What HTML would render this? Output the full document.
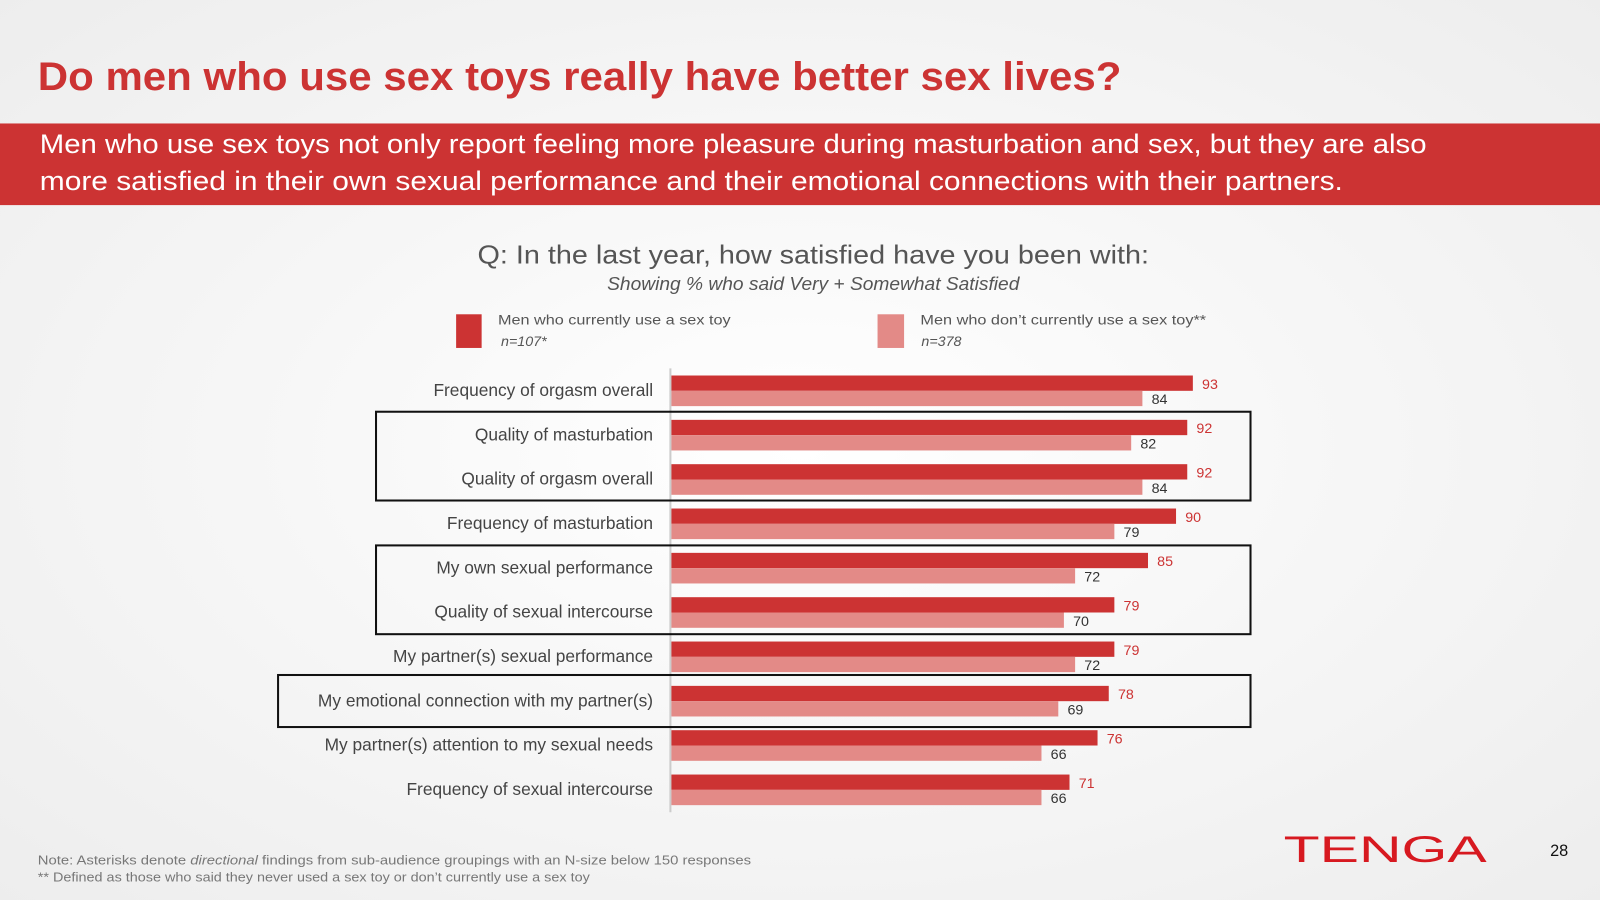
<!DOCTYPE html>
<html><head><meta charset="utf-8"><style>
html,body{margin:0;padding:0;width:1600px;height:900px;overflow:hidden;}
svg{display:block;font-family:"Liberation Sans",sans-serif;}
</style></head><body>
<svg id="chart" width="1600" height="900" viewBox="0 0 1568 882">
<defs>
<radialGradient id="bg" cx="50%" cy="50%" r="75%">
<stop offset="0" stop-color="#ffffff"/><stop offset="1" stop-color="#ececec"/>
</radialGradient>
</defs>
<rect width="1568" height="882" fill="url(#bg)"/>
<text x="37" y="88" font-size="39" font-weight="bold" fill="#cc3333" textLength="1062" lengthAdjust="spacingAndGlyphs">Do men who use sex toys really have better sex lives?</text>
<rect x="0" y="121" width="1568" height="80" fill="#cc3333"/>
<text x="39" y="150" font-size="26" fill="#fff" textLength="1359" lengthAdjust="spacingAndGlyphs">Men who use sex toys not only report feeling more pleasure during masturbation and sex, but they are also</text>
<text x="39" y="186" font-size="26" fill="#fff" textLength="1277" lengthAdjust="spacingAndGlyphs">more satisfied in their own sexual performance and their emotional connections with their partners.</text>
<text x="797" y="258" font-size="25" fill="#555" text-anchor="middle" textLength="658" lengthAdjust="spacingAndGlyphs">Q: In the last year, how satisfied have you been with:</text>
<text x="797" y="284" font-size="18" fill="#555" font-style="italic" text-anchor="middle" textLength="404" lengthAdjust="spacingAndGlyphs">Showing % who said Very + Somewhat Satisfied</text>
<rect x="447" y="308" width="25" height="33" fill="#cc3333"/>
<text x="488" y="318" font-size="14" fill="#555" textLength="228" lengthAdjust="spacingAndGlyphs">Men who currently use a sex toy</text>
<text x="491" y="339" font-size="14" fill="#555" font-style="italic">n=107*</text>
<rect x="860" y="308" width="26" height="33" fill="#e38a87"/>
<text x="902" y="318" font-size="14" fill="#555" textLength="280" lengthAdjust="spacingAndGlyphs">Men who don’t currently use a sex toy**</text>
<text x="903" y="339" font-size="14" fill="#555" font-style="italic">n=378</text>
<line x1="657" y1="361" x2="657" y2="796" stroke="#ccc" stroke-width="2"/>
<g id="bars"></g>
<rect x="368.5" y="403.5" width="857" height="87" fill="none" stroke="#111" stroke-width="2"/>
<rect x="368.5" y="534.5" width="857" height="87" fill="none" stroke="#111" stroke-width="2"/>
<rect x="272.5" y="661.5" width="953" height="51" fill="none" stroke="#111" stroke-width="2"/>
<text x="37" y="847" font-size="13" fill="#777" textLength="699" lengthAdjust="spacingAndGlyphs">Note: Asterisks denote <tspan font-style="italic">directional</tspan> findings from sub-audience groupings with an N-size below 150 responses</text>
<text x="37" y="864" font-size="13" fill="#777" textLength="541" lengthAdjust="spacingAndGlyphs">** Defined as those who said they never used a sex toy or don’t currently use a sex toy</text>
<text x="1258" y="845" font-size="36" fill="#d71920" textLength="199" lengthAdjust="spacingAndGlyphs">TENGA</text>
<text x="1528" y="839" font-size="16" fill="#111" text-anchor="middle">28</text>
</svg>
<script>
const categories = ["Frequency of orgasm overall","Quality of masturbation","Quality of orgasm overall","Frequency of masturbation","My own sexual performance","Quality of sexual intercourse","My partner(s) sexual performance","My emotional connection with my partner(s)","My partner(s) attention to my sexual needs","Frequency of sexual intercourse"];
const usersValues = [93,92,92,90,85,79,79,78,76,71];
const nonUsersValues = [84,82,84,79,72,70,72,69,66,66];
const NS="http://www.w3.org/2000/svg";
const g=document.getElementById('bars');
const x0=658, unit=(1169-658)/93;
const xScale=v=>v*unit;
const rowY=i=>368+i*43.45;
function mk(tag,attrs){const e=document.createElementNS(NS,tag);for(const k in attrs)e.setAttribute(k,attrs[k]);g.appendChild(e);return e;}
categories.forEach((c,i)=>{
  const y=rowY(i);
  const lab=mk('text',{x:640,y:y+20,'font-size':17,fill:'#444','text-anchor':'end'});
  lab.textContent=c;
  
  
  const b1=mk('rect',{x:x0,y:y,width:xScale(usersValues[i]),height:15,fill:'#cc3333'});
  
  
  const b2=mk('rect',{x:x0,y:y+15,width:xScale(nonUsersValues[i]),height:15,fill:'#e38a87'});
  
  
  const v1=mk('text',{x:x0+xScale(usersValues[i])+9,y:y+13,'font-size':14,fill:'#cc3333'});
  v1.textContent=usersValues[i];
  
  
  const v2=mk('text',{x:x0+xScale(nonUsersValues[i])+9,y:y+28,'font-size':14,fill:'#333'});
  v2.textContent=nonUsersValues[i];
  
  
});
</script>
</body></html>
